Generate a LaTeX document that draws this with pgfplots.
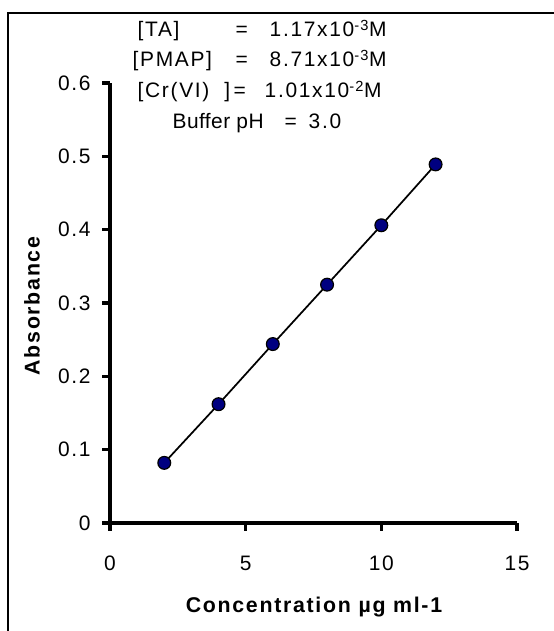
\documentclass[border=0pt]{standalone}
\usepackage{fontspec}
\setmainfont{Liberation Sans}[LetterSpace=8]
\usepackage{pgfplots}
\pgfplotsset{compat=1.18}
\definecolor{markblue}{RGB}{0,0,128}

\newcommand{\fs}{\fontsize{15.7}{18}\selectfont}

\begin{document}
% positions in pt, from the bottom-left corner (1 px of the reference = 0.75pt)
\begin{tikzpicture}
\useasboundingbox (0pt,0pt) rectangle (414.75pt,473.25pt);
% frame
\draw[line width=1pt] (6pt,-5pt) -- (6pt,463.5pt) -- (420pt,463.5pt);

\begin{axis}[
  at={(82.5pt,81pt)}, anchor=south west,
  scale only axis,
  width=305.25pt, height=330pt,
  xmin=0, xmax=15, ymin=0, ymax=0.6,
  xtick={0,5,10,15},
  ytick={0,0.1,...,0.6},
  yticklabel style={/pgf/number format/fixed, /pgf/number format/precision=1},
  axis x line=bottom, axis y line=left,
  axis line style={line width=2.4pt, -},
  x axis line style={line width=2.4pt},
  y axis line style={line width=2.4pt},
  major tick style={line width=2.4pt, black},
  tick align=outside,
  major tick length=6pt,
  /pgf/number format/assume math mode=true,
  ticklabel style={font=\fs},
  xticklabel style={yshift=-15pt},
  yticklabel style={xshift=-5pt},
  clip=false,
]
  \addplot[black, line width=1.3pt, mark=*, mark size=4.8pt,
    mark options={fill=markblue, draw=black, line width=0.9pt}]
    coordinates {(2,0.082) (4,0.162) (6,0.244) (8,0.325) (10,0.406) (12,0.489)};
\end{axis}

\node[rotate=90, font=\fontsize{16}{19}\selectfont\bfseries] at (24pt,243.75pt) {Absorbance};
\node[font=\fontsize{16}{19}\selectfont\bfseries] at (235.5pt,18pt) {Concentration µg ml-1};

\node[anchor=base west, font=\fs] at (99.75pt,445.5pt) {[TA]};
\node[anchor=base west, font=\fs] at (173.25pt,445.5pt) {=};
\node[anchor=base west, font=\fs] at (198.75pt,445.5pt) {1.17x10\textsuperscript{-3}M};
\node[anchor=base west, font=\fs] at (96pt,423pt) {[PMAP]};
\node[anchor=base west, font=\fs] at (173.25pt,423pt) {=};
\node[anchor=base west, font=\fs] at (198.75pt,423pt) {8.71x10\textsuperscript{-3}M};
\node[anchor=base west, font=\fs] at (99.75pt,399.75pt) {[Cr(VI)\ \ ]};
\node[anchor=base west, font=\fs] at (171.75pt,399.75pt) {=};
\node[anchor=base west, font=\fs] at (195pt,399.75pt) {1.01x10\textsuperscript{-2}M};
\node[anchor=base west, font=\fs\addfontfeatures{LetterSpace=2}] at (126pt,376.5pt) {Buffer pH};
\node[anchor=base west, font=\fs] at (210pt,376.5pt) {=};
\node[anchor=base west, font=\fs] at (228pt,376.5pt) {3.0};
\end{tikzpicture}
\end{document}
